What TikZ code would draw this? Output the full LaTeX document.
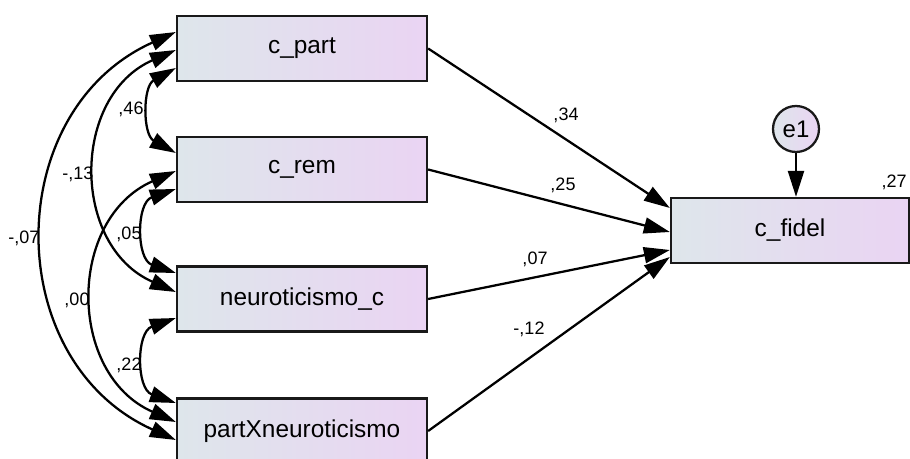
\documentclass[tikz,border=0pt]{standalone}
\usepackage{fontspec}
\setmainfont{Liberation Sans}
\usetikzlibrary{arrows.meta,calc}
\definecolor{boxleft}{RGB}{222,230,235}
\definecolor{boxright}{RGB}{234,212,243}
\definecolor{edge}{RGB}{25,25,25}

\begin{document}
\begin{tikzpicture}[x=0.75pt,y=-0.75pt,
  var/.style={draw=edge, line width=1.7pt, left color=boxleft, right color=boxright,
    minimum width=187.5pt, minimum height=48.75pt, inner sep=0pt,
    font=\fontsize{18.3}{21}\selectfont},
  errvar/.style={circle, draw=edge, line width=1.7pt, left color=boxleft, right color=boxright,
    minimum size=34.5pt, inner sep=0pt, font=\fontsize{18}{21}\selectfont},
  coef/.style={inner sep=0pt, font=\fontsize{13.5}{16}\selectfont},
  regpath/.style={line width=1.7pt, -{Triangle[length=19.5pt,width=12pt]}},
  covpath/.style={line width=1.7pt, {Triangle[length=19.5pt,width=12pt]}-{Triangle[length=19.5pt,width=12pt]}}
]
\useasboundingbox (0,0) rectangle (910,459);

% observed variables
\node[var] (cpart) at (302,48.5) {c\_part};
\node[var] (crem)  at (302,169.5) {c\_rem};
\node[var] (neuro) at (302,299) {neuroticismo\_c};
\node[var] (partx) at (302,431) {partXneuroticismo};
\node[var, minimum width=178.5pt] (cfidel) at (790,230.5) {c\_fidel};

% error term
\node[errvar] (e1) at (796,129) {e1};
\draw[regpath] (e1) -- (e1 |- cfidel.north);
\node[coef] (r2) at (894,182) {,27};

% regression paths
\draw[regpath] (cpart.east) -- ($(cfidel.west)+(0,-22.5)$);
\draw[regpath] (crem.east)  -- ($(cfidel.west)+(0,1.5)$);
\draw[regpath] (neuro.east) -- ($(cfidel.west)+(0,19.5)$);
\draw[regpath] (partx.east) -- ($(cfidel.west)+(0,26.5)$);
\node[coef] (b1) at (566,115) {,34};
\node[coef] (b2) at (563,185) {,25};
\node[coef] (b3) at (535,259) {,07};
\node[coef] (b4) at (529,329) {-,12};

% covariances among the predictors
\draw[covpath] ($(cpart.west)+(0,19.5)$) to[bend right=61, looseness=1.147] ($(crem.west)+(0,-16.5)$);
\draw[covpath] ($(cpart.west)+(0,1.5)$) to[bend right=66.3, looseness=1.215] ($(neuro.west)+(0,-7)$);
\draw[covpath] ($(cpart.west)+(0,-16.5)$) to[bend right=65.8, looseness=1.209] ($(partx.west)+(0,9)$);
\draw[covpath] ($(crem.west)+(0,19.5)$) to[bend right=71, looseness=1.284] ($(neuro.west)+(0,-26)$);
\draw[covpath] ($(crem.west)+(0,1.5)$) to[bend right=66.3, looseness=1.215] ($(partx.west)+(0,-9)$);
\draw[covpath] ($(neuro.west)+(0,19)$) to[bend right=70.4, looseness=1.275] ($(partx.west)+(0,-28)$);

\node[coef] (c1) at (131,109) {,46};
\node[coef] (c2) at (78,174) {-,13};
\node[coef] (c3) at (24,238) {-,07};
\node[coef] (c4) at (129,234) {,05};
\node[coef] (c5) at (77,300) {,00};
\node[coef] (c6) at (129,365) {,22};
\end{tikzpicture}
\end{document}
